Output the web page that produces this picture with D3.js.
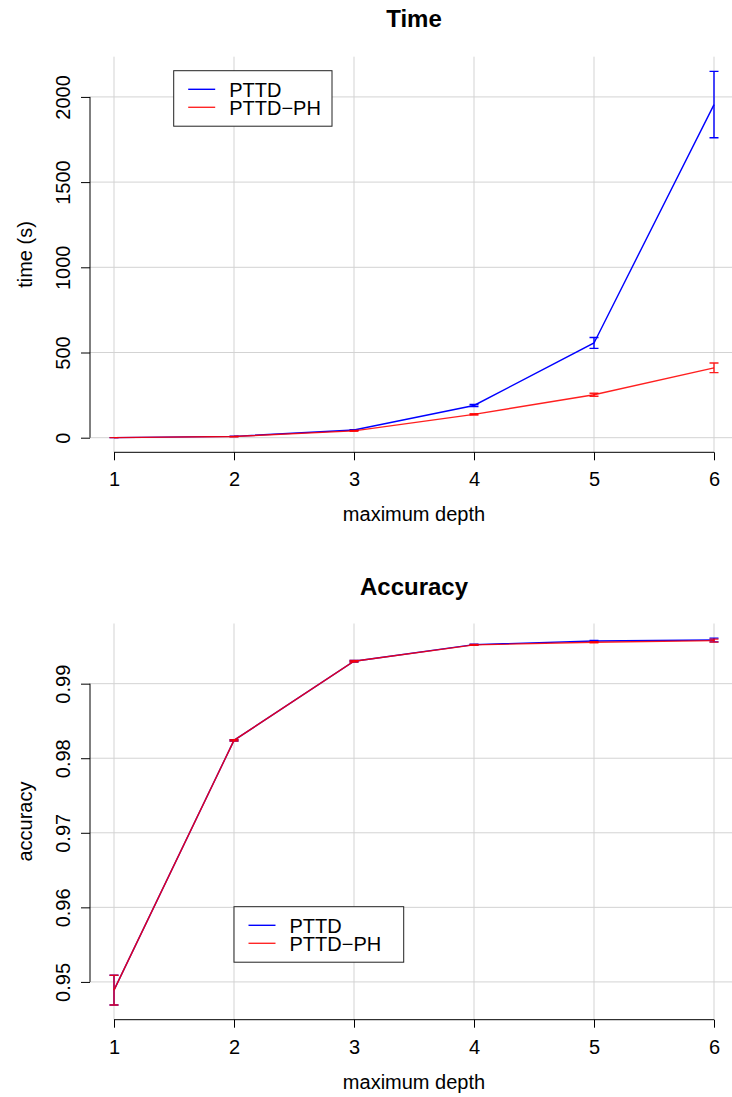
<!DOCTYPE html>
<html>
<head>
<meta charset="utf-8">
<script src="https://cdn.jsdelivr.net/npm/d3@7"></script>
<style>
  body { margin: 0; background: #fff; }
  svg { display: block; font-family: "Liberation Sans", Arial, sans-serif; }
</style>
</head>
<body>
<script>
// depth values on the x axis
const depths = [1, 2, 3, 4, 5, 6]
const seriesNames = ['PTTD', 'PTTD-PH']
const seriesColours = ['#0000ff', '#ff0000']

// time (s), mean and error
const timePTTD = [0.5, 8, 45, 189, 556, 1955]
const timePTTDErr = [0.2, 1, 2, 6, 32, 195]
const timePH = [0.5, 7, 40, 137, 252, 410]
const timePHErr = [0.2, 1, 2, 4, 9, 28]
const timeTicks = [0, 500, 1000, 1500, 2000]

// accuracy, mean and error
const accPTTD = [0.9489, 0.9824, 0.9930, 0.99523, 0.99572, 0.99585]
const accPTTDErr = [0.0020, 0.0001, 0.0001, 0.00006, 0.00008, 0.00025]
const accPH = [0.9489, 0.9824, 0.9930, 0.99520, 0.99555, 0.99577]
const accPHErr = [0.0020, 0.0001, 0.0001, 0.00006, 0.00008, 0.00020]
const accTicks = [0.95, 0.96, 0.97, 0.98, 0.99]

const W = 732, H = 1097

const svg = d3.select('body').append('svg')
    .attr('width', W)
    .attr('height', H)

function panel(opts) {
    const { top, bottom, title, titleY, ylabel, ticks, fmt, series, legend } = opts

    // R style range: 4% padding around the data
    let lo = d3.min(series, s => d3.min(s.mean, (d, i) => d - s.err[i]))
    let hi = d3.max(series, s => d3.max(s.mean, (d, i) => d + s.err[i]))
    let pad = (hi - lo) * 0.04

    const x = d3.scaleLinear().domain([0.8, 6.2]).range([90, 738])
    const y = d3.scaleLinear().domain([lo - pad, hi + pad]).range([bottom, top])

    const g = svg.append('g')

    // grid
    g.selectAll('.vgrid')
        .data(depths)
        .enter()
        .append('line')
        .attr('x1', d => x(d)).attr('x2', d => x(d))
        .attr('y1', top).attr('y2', bottom)
        .style('stroke', '#d3d3d3')
        .style('stroke-width', 1)
    g.selectAll('.hgrid')
        .data(ticks)
        .enter()
        .append('line')
        .attr('x1', 90).attr('x2', 738)
        .attr('y1', d => y(d)).attr('y2', d => y(d))
        .style('stroke', '#d3d3d3')
        .style('stroke-width', 1)

    // x axis
    const xAxis = g.append('g')
        .attr('transform', `translate(0,${bottom})`)
        .call(d3.axisBottom(x).tickValues(depths).tickSize(8).tickPadding(6).tickFormat(d3.format('d')))
    xAxis.select('.domain').remove()
    xAxis.append('line')
        .attr('x1', x(depths[0])).attr('x2', x(depths[depths.length - 1]))
        .style('stroke', '#000')
    xAxis.selectAll('text')
        .style('font-size', '20px')
        .style('fill', '#000')
        .attr('dy', null)
        .attr('y', 34)
    xAxis.selectAll('.tick line').style('stroke', '#000')

    // y axis
    const yAxis = g.append('g')
        .attr('transform', 'translate(90,0)')
        .call(d3.axisLeft(y).tickValues(ticks).tickSize(9).tickFormat(fmt))
    yAxis.select('.domain').remove()
    yAxis.append('line')
        .attr('y1', y(ticks[0])).attr('y2', y(ticks[ticks.length - 1]))
        .style('stroke', '#000')
    yAxis.selectAll('.tick line').style('stroke', '#000')
    yAxis.selectAll('text')
        .style('font-size', '20px')
        .style('fill', '#000')
        .attr('x', null).attr('dy', null)
        .attr('text-anchor', 'middle')
        .attr('transform', 'translate(-20,0) rotate(-90)')

    // titles
    g.append('text')
        .attr('x', (90 + 738) / 2)
        .attr('y', titleY)
        .attr('text-anchor', 'middle')
        .style('font-size', '24px')
        .style('font-weight', 'bold')
        .text(title)
    g.append('text')
        .attr('x', (90 + 738) / 2)
        .attr('y', bottom + 69)
        .attr('text-anchor', 'middle')
        .style('font-size', '20px')
        .text('maximum depth')
    g.append('text')
        .attr('transform', `translate(31.5,${(top + bottom) / 2}) rotate(-90)`)
        .attr('text-anchor', 'middle')
        .style('font-size', '20px')
        .text(ylabel)

    // series with error bars
    const line = d3.line().x((d, i) => x(depths[i])).y(d => y(d))
    series.forEach((s, k) => {
        const sg = g.append('g').style('stroke', s.colour).style('stroke-opacity', k == 1 ? 0.88 : 1)
        sg.append('path')
            .attr('d', line(s.mean))
            .style('fill', 'none')
            .style('stroke-width', 1.4)
        const bars = sg.selectAll('.err')
            .data(s.mean)
            .enter()
            .append('path')
            .attr('d', (d, i) => {
                const cx = x(depths[i]), y0 = y(d - s.err[i]), y1 = y(d + s.err[i])
                return `M${cx},${y0}V${y1}M${cx - 4.5},${y0}H${cx + 4.5}M${cx - 4.5},${y1}H${cx + 4.5}`
            })
            .style('fill', 'none')
            .style('stroke-width', 1.4)
    })

    // legend
    const lg = g.append('g').attr('transform', `translate(${legend.x},${legend.y})`)
    lg.append('rect')
        .attr('width', legend.w).attr('height', 55.5)
        .style('fill', '#fff')
        .style('stroke', '#222')
        .style('stroke-width', 1)
    seriesNames.forEach((name, i) => {
        lg.append('line')
            .attr('x1', 14.5).attr('x2', 41.5)
            .attr('y1', 18.6 + i * 18).attr('y2', 18.6 + i * 18)
            .style('stroke', seriesColours[i])
            .style('stroke-opacity', i == 1 ? 0.85 : 1)
            .style('stroke-width', 1.4)
        lg.append('text')
            .attr('x', 55.5)
            .attr('y', 26 + i * 18)
            .style('font-size', '20px')
            .text(name.replace('-', '\u2212'))
    })
}

panel({
    top: 56.7, bottom: 452.3,
    title: 'Time', titleY: 27,
    ylabel: 'time (s)',
    ticks: timeTicks,
    fmt: d3.format('d'),
    series: [
        { mean: timePTTD, err: timePTTDErr, colour: seriesColours[0] },
        { mean: timePH, err: timePHErr, colour: seriesColours[1] }
    ],
    legend: { x: 173.7, y: 70.7, w: 158.3 }
})

panel({
    top: 623.5, bottom: 1019.7,
    title: 'Accuracy', titleY: 595,
    ylabel: 'accuracy',
    ticks: accTicks,
    fmt: d3.format('.2f'),
    series: [
        { mean: accPTTD, err: accPTTDErr, colour: seriesColours[0] },
        { mean: accPH, err: accPHErr, colour: seriesColours[1] }
    ],
    legend: { x: 234, y: 906.7, w: 169.7 }
})
</script>
</body>
</html>
